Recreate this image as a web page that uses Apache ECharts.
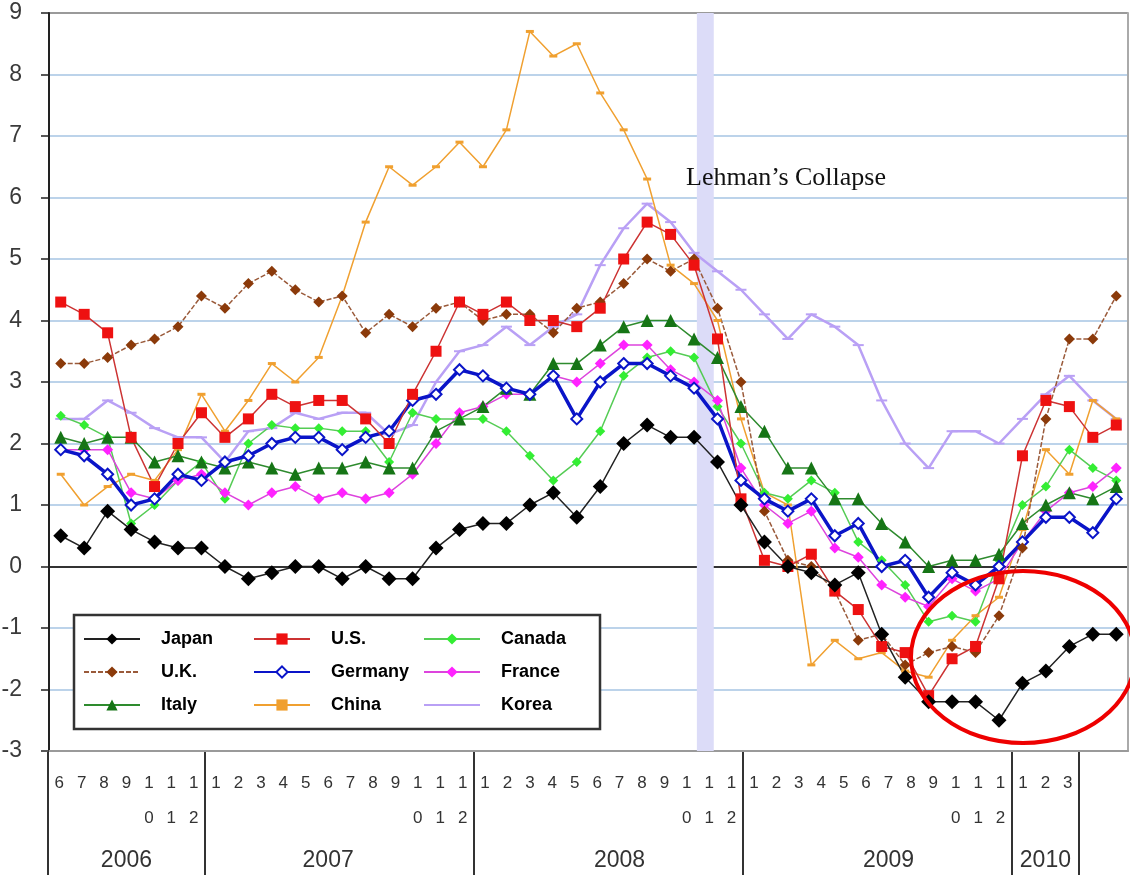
<!DOCTYPE html>
<html>
<head>
<meta charset="utf-8">
<title>Consumer prices</title>
<script src="https://cdn.jsdelivr.net/npm/echarts@6.0.0/dist/echarts.min.js"></script>
<style>
html, body { margin: 0; padding: 0; background: #fff; }
#main { width: 1130px; height: 875px; }
</style>
</head>
<body>
<div id="main"></div>
<script>
// months Jun 2006 .. Mar 2010
var months = [6, 7, 8, 9, 10, 11, 12,
  1, 2, 3, 4, 5, 6, 7, 8, 9, 10, 11, 12,
  1, 2, 3, 4, 5, 6, 7, 8, 9, 10, 11, 12,
  1, 2, 3, 4, 5, 6, 7, 8, 9, 10, 11, 12,
  1, 2, 3]
var yearNames = ['2006', '2007', '2008', '2009', '2010']
var yearLabelAt = [3, 12, 25, 37, 44]
var yTicks = [-3, 9, 1]

var japan = [0.5, 0.3, 0.9, 0.6, 0.4, 0.3, 0.3,
  0.0, -0.2, -0.1, 0.0, 0.0, -0.2, 0.0, -0.2, -0.2, 0.3, 0.6, 0.7,
  0.7, 1.0, 1.2, 0.8, 1.3, 2.0, 2.3, 2.1, 2.1, 1.7, 1.0, 0.4,
  0.0, -0.1, -0.3, -0.1, -1.1, -1.8, -2.2, -2.2, -2.2, -2.5, -1.9, -1.7,
  -1.3, -1.1, -1.1]
var uk = [3.3, 3.3, 3.4, 3.6, 3.7, 3.9, 4.4,
  4.2, 4.6, 4.8, 4.5, 4.3, 4.4, 3.8, 4.1, 3.9, 4.2, 4.3, 4.0,
  4.1, 4.1, 3.8, 4.2, 4.3, 4.6, 5.0, 4.8, 5.0, 4.2, 3.0, 0.9,
  0.1, 0.0, -0.4, -1.2, -1.1, -1.6, -1.4, -1.3, -1.4, -0.8, 0.3, 2.4,
  3.7, 3.7, 4.4]
var italy = [2.1, 2.0, 2.1, 2.1, 1.7, 1.8, 1.7,
  1.6, 1.7, 1.6, 1.5, 1.6, 1.6, 1.7, 1.6, 1.6, 2.2, 2.4, 2.6,
  2.9, 2.8, 3.3, 3.3, 3.6, 3.9, 4.0, 4.0, 3.7, 3.4, 2.6, 2.2,
  1.6, 1.6, 1.1, 1.1, 0.7, 0.4, 0.0, 0.1, 0.1, 0.2, 0.7, 1.0,
  1.2, 1.1, 1.3]
var us = [4.3, 4.1, 3.8, 2.1, 1.3, 2.0, 2.5,
  2.1, 2.4, 2.8, 2.6, 2.7, 2.7, 2.4, 2.0, 2.8, 3.5, 4.3, 4.1,
  4.3, 4.0, 4.0, 3.9, 4.2, 5.0, 5.6, 5.4, 4.9, 3.7, 1.1, 0.1,
  0.0, 0.2, -0.4, -0.7, -1.3, -1.4, -2.1, -1.5, -1.3, -0.2, 1.8, 2.7,
  2.6, 2.1, 2.3]
var germany = [1.9, 1.8, 1.5, 1.0, 1.1, 1.5, 1.4,
  1.7, 1.8, 2.0, 2.1, 2.1, 1.9, 2.1, 2.2, 2.7, 2.8, 3.2, 3.1,
  2.9, 2.8, 3.1, 2.4, 3.0, 3.3, 3.3, 3.1, 2.9, 2.4, 1.4, 1.1,
  0.9, 1.1, 0.5, 0.7, 0.0, 0.1, -0.5, -0.1, -0.3, 0.0, 0.4, 0.8,
  0.8, 0.55, 1.1]
var china = [1.5, 1.0, 1.3, 1.5, 1.4, 1.9, 2.8,
  2.2, 2.7, 3.3, 3.0, 3.4, 4.4, 5.6, 6.5, 6.2, 6.5, 6.9, 6.5,
  7.1, 8.7, 8.3, 8.5, 7.7, 7.1, 6.3, 4.9, 4.6, 4.0, 2.4, 1.2,
  1.0, -1.6, -1.2, -1.5, -1.4, -1.7, -1.8, -1.2, -0.8, -0.5, 0.6, 1.9,
  1.5, 2.7, 2.4]
var canada = [2.45, 2.3, 2.1, 0.7, 1.0, 1.4, 1.7,
  1.1, 2.0, 2.3, 2.25, 2.25, 2.2, 2.2, 1.7, 2.5, 2.4, 2.4, 2.4,
  2.2, 1.8, 1.4, 1.7, 2.2, 3.1, 3.4, 3.5, 3.4, 2.6, 2.0, 1.2,
  1.1, 1.4, 1.2, 0.4, 0.1, -0.3, -0.9, -0.8, -0.9, 0.1, 1.0, 1.3,
  1.9, 1.6, 1.4]
var france = [1.9, 1.9, 1.9, 1.2, 1.1, 1.4, 1.5,
  1.2, 1.0, 1.2, 1.3, 1.1, 1.2, 1.1, 1.2, 1.5, 2.0, 2.5, 2.6,
  2.8, 2.8, 3.1, 3.0, 3.3, 3.6, 3.6, 3.2, 3.0, 2.7, 1.6, 1.0,
  0.7, 0.9, 0.3, 0.15, -0.3, -0.5, -0.65, -0.2, -0.4, -0.2, 0.4, 0.9,
  1.2, 1.3, 1.6]
var korea = [2.4, 2.4, 2.7, 2.5, 2.25, 2.1, 2.1,
  1.7, 2.2, 2.25, 2.5, 2.4, 2.5, 2.5, 2.15, 2.3, 3.0, 3.5, 3.6,
  3.9, 3.6, 3.9, 4.1, 4.9, 5.5, 5.9, 5.6, 5.1, 4.8, 4.5, 4.1,
  3.7, 4.1, 3.9, 3.6, 2.7, 2.0, 1.6, 2.2, 2.2, 2.0, 2.4, 2.8,
  3.1, 2.7, 2.4]
// Lehman band, in month index units (between Sep and Oct 2008)
var lehmanBand = [27.12, 27.84]

var sans = "'Liberation Sans', Arial, sans-serif"

// year of each month, for the bottom row
var monthYears = []
var yi = 0
months.forEach(function (m, i) {
  if (m === 1 && i > 0) yi++
  monthYears.push(yearNames[yi])
})

function pts (vals) {
  return vals.map(function (v, i) { return [i, v] })
}

function line (name, vals, color, lineColor, symbol, size, extra) {
  var s = {
    name: name,
    type: 'line',
    xAxisIndex: 0,
    yAxisIndex: 0,
    data: pts(vals),
    symbol: symbol,
    symbolSize: size,
    itemStyle: { color: color },
    lineStyle: { color: lineColor, width: 1.5 }
  }
  return Object.assign(s, extra || {})
}

var myChart = echarts.init(document.getElementById('main'))

var grid = [
  { left: 49, right: 2, top: 13, bottom: 124, outerBoundsMode: 'none', containLabel: false },
  { left: 48, width: 1031, top: 751, height: 1, outerBoundsMode: 'none', containLabel: false }
]

var legendBase = {
  orient: 'vertical',
  top: 629,
  padding: 0,
  itemWidth: 56,
  itemHeight: 14,
  itemGap: 13,
  selectedMode: false,
  z: 6,
  textStyle: {
    fontFamily: sans,
    fontWeight: 'bold',
    fontSize: 18,
    lineHeight: 20,
    color: '#000',
    padding: [0, 0, 0, 16]
  }
}

myChart.setOption({
  animation: false,
  backgroundColor: '#fff',
  grid: grid,
  legend: [
    Object.assign({}, legendBase, { left: 83, data: ['Japan', 'U.K.', 'Italy'] }),
    Object.assign({}, legendBase, { left: 253, data: ['U.S.', 'Germany', 'China'] }),
    Object.assign({}, legendBase, {
      left: 423,
      data: ['Canada', 'France', { name: 'Korea', itemStyle: { opacity: 0 } }]
    })
  ],
  xAxis: [
    {
      type: 'value',
      gridIndex: 0,
      position: 'bottom',
      min: -0.5,
      max: 45.5,
      axisLine: { show: true, onZero: false, lineStyle: { color: '#9a9a9a', width: 2 } },
      axisTick: { show: false },
      axisLabel: { show: false },
      splitLine: { show: false }
    },
    {
      type: 'category',
      gridIndex: 1,
      position: 'bottom',
      data: months,
      boundaryGap: true,
      axisLine: { show: false },
      axisTick: { show: false },
      axisLabel: {
        interval: 0,
        margin: 14,
        fontFamily: sans,
        fontSize: 17,
        lineHeight: 35,
        color: '#333',
        formatter: function (v) {
          var m = Number(v)
          return m >= 10 ? '1\n' + (m - 10) : String(m)
        }
      }
    },
    {
      type: 'category',
      gridIndex: 1,
      position: 'bottom',
      data: monthYears,
      boundaryGap: true,
      axisLine: { show: false },
      axisTick: {
        show: true,
        length: 124,
        interval: function (i) { return i === 0 || months[i] === 1 },
        lineStyle: { color: '#333', width: 2 }
      },
      axisLabel: {
        margin: 97,
        fontFamily: sans,
        fontSize: 23,
        lineHeight: 24,
        color: '#333',
        interval: function (i) { return yearLabelAt.indexOf(i) >= 0 }
      }
    }
  ],
  yAxis: [
    {
      type: 'value',
      gridIndex: 0,
      position: 'left',
      min: yTicks[0],
      max: yTicks[1],
      interval: yTicks[2],
      axisLine: { show: true, onZero: false, lineStyle: { color: '#222', width: 2 } },
      axisTick: { show: true, length: 8, lineStyle: { color: '#222', width: 1.5 } },
      axisLabel: {
        margin: 27,
        fontFamily: sans,
        fontSize: 23,
        color: '#3a3a3a'
      },
      splitLine: {
        show: true,
        lineStyle: {
          width: 2,
          color: ['#9a9a9a', '#bcd3ea', '#bcd3ea', '#333333',
            '#bcd3ea', '#bcd3ea', '#bcd3ea', '#bcd3ea',
            '#bcd3ea', '#bcd3ea', '#bcd3ea', '#bcd3ea', '#9a9a9a']
        }
      }
    },
    {
      type: 'value',
      gridIndex: 0,
      position: 'right',
      min: yTicks[0],
      max: yTicks[1],
      interval: yTicks[2],
      axisLine: { show: true, onZero: false, lineStyle: { color: '#aaa', width: 2 } },
      axisTick: { show: false },
      axisLabel: { show: false },
      splitLine: { show: false }
    },
    { type: 'value', gridIndex: 1, show: false }
  ],
  series: [
    line('Korea', korea, '#b9a0f5', '#b9a0f5', 'rect', [11, 2], {
      lineStyle: { color: '#b9a0f5', width: 2.5 },
      markArea: {
        silent: true,
        itemStyle: { color: '#dcdcf8' },
        data: [[{ xAxis: lehmanBand[0] }, { xAxis: lehmanBand[1] }]]
      }
    }),
    line('China', china, '#f0a030', '#f0a030', 'rect', [8, 3]),
    line('Canada', canada, '#33ee33', '#55cc55', 'diamond', 10),
    line('France', france, '#ff22ff', '#dd44dd', 'diamond', 11),
    line('Italy', italy, '#167516', '#2e8b2e', 'triangle', 13),
    line('Germany', germany, '#0a14c8', '#0a14c8', 'diamond', 11, {
      lineStyle: { color: '#0a14c8', width: 3.5 },
      itemStyle: { color: '#fff', borderColor: '#0a14c8', borderWidth: 2 }
    }),
    line('U.K.', uk, '#8b3a0a', '#9a5a3a', 'diamond', 11, {
      lineStyle: { color: '#9a5a3a', width: 1.5, type: [5, 2] }
    }),
    line('U.S.', us, '#ee1111', '#cc3333', 'rect', 11),
    line('Japan', japan, '#000', '#222', 'diamond', 15)
  ],
  graphic: [
    {
      type: 'rect',
      z: 5,
      shape: { x: 74, y: 615, width: 526, height: 114 },
      style: { fill: '#fff', stroke: '#333', lineWidth: 2.5 }
    },
    {
      type: 'text',
      z: 20,
      left: 686,
      top: 165,
      style: {
        text: 'Lehman\u2019s Collapse',
        font: "26px 'Liberation Serif', 'Times New Roman', serif",
        fill: '#111'
      }
    },
    {
      type: 'ellipse',
      z: 20,
      shape: { cx: 1023, cy: 657, rx: 112, ry: 86 },
      style: { fill: 'none', stroke: '#ee0000', lineWidth: 4 }
    }
  ]
})
window.onresize = myChart.resize
</script>
</body>
</html>
